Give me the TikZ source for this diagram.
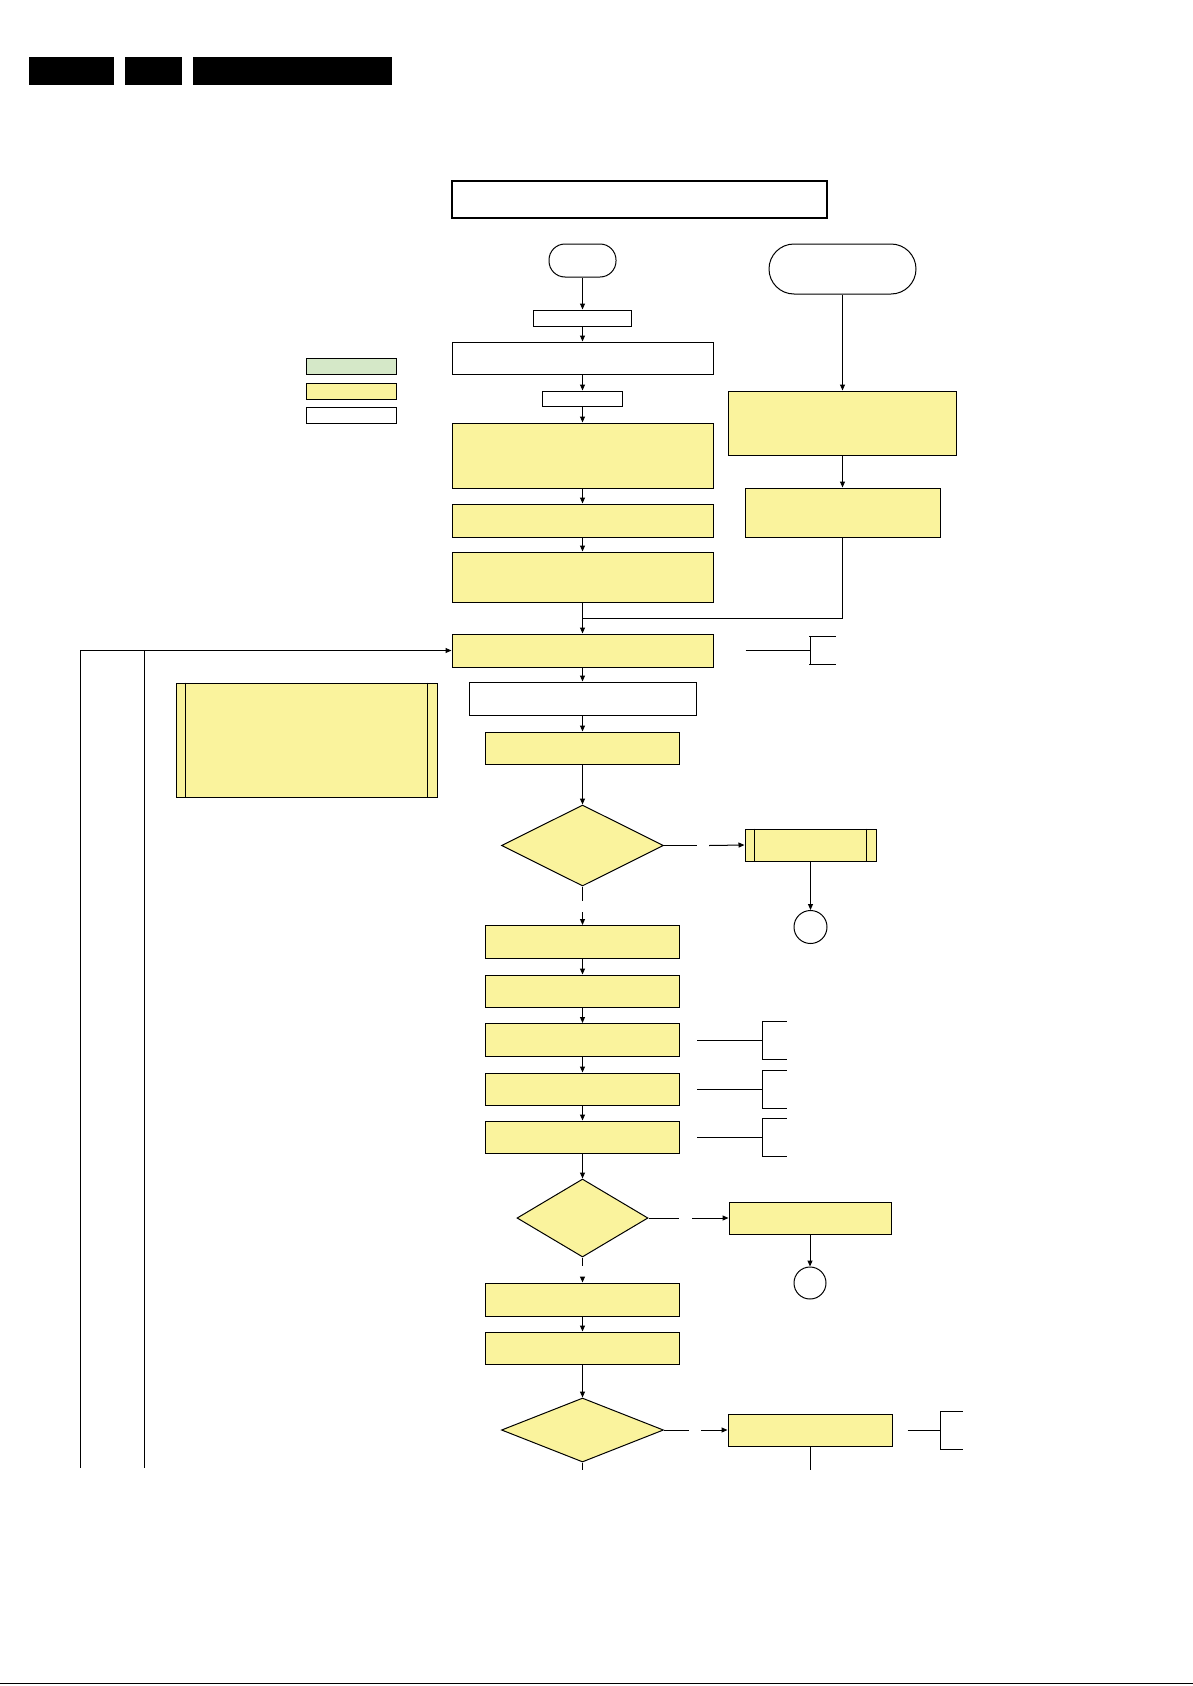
\documentclass[tikz,border=0pt]{standalone}
\usepackage{tikz}
\usetikzlibrary{positioning,arrows.meta,shapes.geometric}
\definecolor{ylw}{RGB}{250,243,157}
\definecolor{grn}{RGB}{213,232,200}

\begin{document}
\begin{tikzpicture}[x=1pt,y=-1pt,line width=1pt,>={Triangle[length=6pt,width=5pt]},
  wbox/.style={draw,fill=white,inner sep=0pt},
  ybox/.style={draw,fill=ylw,inner sep=0pt},
  gbox/.style={draw,fill=grn,inner sep=0pt},
  term/.style={draw,fill=white,inner sep=0pt,rounded corners=16pt},
  test/.style={draw,fill=ylw,diamond,inner sep=0pt},
  conn/.style={draw,circle,fill=white,inner sep=0pt,minimum size=33pt}]
\useasboundingbox (0,0) rectangle (1193,1686);
% header bars and footer line
\fill (29,57) rectangle (114,85);
\fill (125,57) rectangle (182,85);
\fill (193,57) rectangle (392,85);
\draw (0,1683) -- (1193,1683);
% legend
\node[gbox,minimum width=90pt,minimum height=16pt] (lg1) at (351,366) {};
\node[ybox,minimum width=90pt,minimum height=16pt] (lg2) at (351,391) {};
\node[wbox,minimum width=90pt,minimum height=16pt] (lg3) at (351,415) {};
% title
\node[draw,line width=2pt,inner sep=0pt,minimum width=375pt,minimum height=37pt] (title) at (639.5,199.5) {};
% main column
\node[term,minimum width=67pt,minimum height=33pt] (start) at (582.5,260.5) {};
\node[wbox,minimum width=98pt,minimum height=16pt] (s1) at (582.5,318) {};
\node[wbox,minimum width=261pt,minimum height=32pt] (s2) at (582.5,358) {};
\node[wbox,minimum width=80pt,minimum height=15pt] (s3) at (582.5,398.5) {};
\node[ybox,minimum width=261pt,minimum height=65pt] (s4) at (582.5,455.5) {};
\node[ybox,minimum width=261pt,minimum height=33pt] (s5) at (582.5,520.5) {};
\node[ybox,minimum width=261pt,minimum height=50pt] (s6) at (582.5,577) {};
% right column
\node[term,rounded corners=25pt,minimum width=147pt,minimum height=50pt] (rstart) at (842.5,269) {};
\node[ybox,minimum width=228pt,minimum height=64pt] (r1) at (842.5,423) {};
\node[ybox,minimum width=195pt,minimum height=49pt] (r2) at (842.5,512.5) {};
\coordinate (rj) at (842.5,618);
\coordinate (mj) at (582.5,618);
% loop part
\node[ybox,minimum width=261pt,minimum height=33pt] (loop) at (582.5,650.5) {};
\node[wbox,minimum width=227pt,minimum height=33pt] (m1) at (582.5,698.5) {};
\node[ybox,minimum width=194pt,minimum height=32pt] (m2) at (582.5,748) {};
\node[ybox,minimum width=261pt,minimum height=114pt] (note) at (306.5,740) {};
\node[test,minimum width=162pt,minimum height=81pt] (t1) at (582.5,845.5) {};
\node[ybox,minimum width=131pt,minimum height=32pt] (p1) at (810.5,845) {};
\node[conn] (c1) at (810.5,927) {};
\node[ybox,minimum width=194pt,minimum height=33pt] (m3) at (582.5,942) {};
\node[ybox,minimum width=194pt,minimum height=32pt] (m4) at (582.5,991) {};
\node[ybox,minimum width=194pt,minimum height=33pt] (m5) at (582.5,1040) {};
\node[ybox,minimum width=194pt,minimum height=32pt] (m6) at (582.5,1089) {};
\node[ybox,minimum width=194pt,minimum height=32pt] (m7) at (582.5,1137) {};
\node[test,minimum width=131pt,minimum height=78pt] (t2) at (582.5,1218) {};
\node[ybox,minimum width=162pt,minimum height=32pt] (q1) at (810,1218) {};
\node[conn,minimum size=32pt] (c2) at (810,1283) {};
\node[ybox,minimum width=194pt,minimum height=33pt] (m8) at (582.5,1299.5) {};
\node[ybox,minimum width=194pt,minimum height=32pt] (m9) at (582.5,1348) {};
\node[test,minimum width=162pt,minimum height=64pt] (t3) at (582.5,1430) {};
\node[ybox,minimum width=164pt,minimum height=32pt] (q2) at (810,1430) {};
% double side lines
\foreach \n in {note,p1}{
  \draw ([xshift=10pt]\n.north west) -- ([xshift=10pt]\n.south west);
  \draw ([xshift=-10pt]\n.north east) -- ([xshift=-10pt]\n.south east);
}
% connectors
\draw[->] (start) -- (s1);
\draw[->] (s1) -- (s2);
\draw[->] (s2) -- (s3);
\draw[->] (s3) -- (s4);
\draw[->] (s4) -- (s5);
\draw[->] (s5) -- (s6);
\draw[->] (s6) -- (loop);
\draw[->] (rstart) -- (r1);
\draw[->] (r1) -- (r2);
\draw (r2) -- (rj) -- (mj);
\draw[->] (loop) -- (m1);
\draw[->] (m1) -- (m2);
\draw[->] (m2) -- (t1);
\coordinate (t1a) at (697,845.5);
\coordinate (t1b) at (709,845.5);
\draw (t1.east) -- (t1a);
\draw[->] (t1b) -- (p1.west);
\draw[->] (p1) -- (c1);
\coordinate (t1c) at (582.5,901);
\coordinate (t1d) at (582.5,912);
\draw (t1.south) -- (t1c);
\draw[->] (t1d) -- (m3);
\draw[->] (m3) -- (m4);
\draw[->] (m4) -- (m5);
\draw[->] (m5) -- (m6);
\draw[->] (m6) -- (m7);
\draw[->] (m7) -- (t2);
\coordinate (t2a) at (679,1218);
\coordinate (t2b) at (692,1218);
\draw (t2.east) -- (t2a);
\draw[->] (t2b) -- (q1.west);
\draw[->] (q1) -- (c2);
\coordinate (t2c) at (582.5,1266);
\coordinate (t2d) at (582.5,1277);
\draw (t2.south) -- (t2c);
\draw[->] (t2d) -- (m8);
\draw[->] (m8) -- (m9);
\draw[->] (m9) -- (t3);
\coordinate (t3a) at (689,1430);
\coordinate (t3b) at (701,1430);
\draw (t3.east) -- (t3a);
\draw[->] (t3b) -- (q2.west);
\coordinate (t3e) at (582.5,1470);
\coordinate (q2e) at (810,1470);
\draw (t3.south) -- (t3e);
\draw (q2.south) -- (q2e);
% loop back lines
\coordinate (lpa) at (80,650.5);
\coordinate (lpb) at (80,1468);
\coordinate (lpc) at (144,650.5);
\coordinate (lpd) at (144,1468);
\draw[->] (lpa) -- (loop.west);
\draw (lpa) -- (lpb);
\draw (lpc) -- (lpd);
% brackets
\draw ([xshift=32pt]loop.east) -- ++(65,0) ++(0,-14) -- ++(0,28);
\draw (809,636) -- ++(27,0) (809,664) -- ++(27,0);
\foreach \n in {m5,m6,m7}{
  \draw ([xshift=17pt]\n.east) -- ++(65,0) ++(0,-19) -- ++(0,38);
  \draw ([xshift=82pt,yshift=19pt]\n.east) -- ++(25,0);
  \draw ([xshift=82pt,yshift=-19pt]\n.east) -- ++(25,0);
}
\draw ([xshift=15pt]q2.east) -- (940,1430);
\draw (940,1411) -- (940,1449);
\draw (940,1411) -- (963,1411) (940,1449) -- (963,1449);
\end{tikzpicture}
\end{document}
